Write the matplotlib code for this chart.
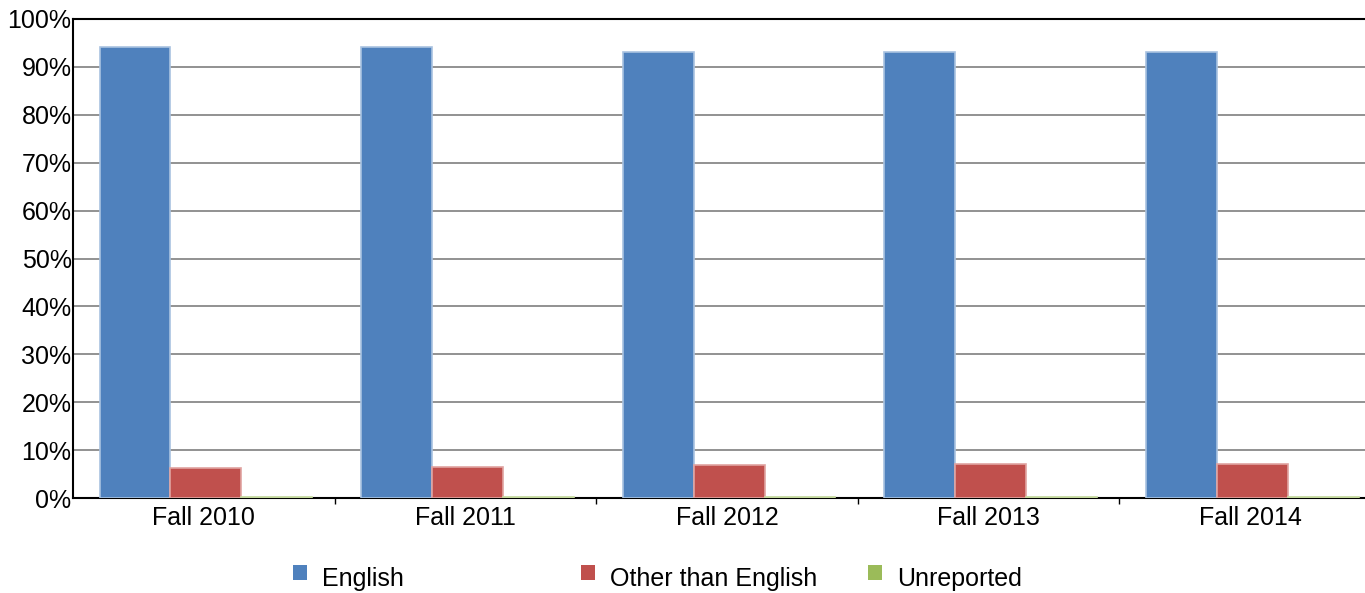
import numpy as np
import matplotlib.pyplot as plt
from matplotlib.patches import Rectangle

plt.rcParams['font.family'] = ['Liberation Sans', 'DejaVu Sans']

terms = ['Fall 2010', 'Fall 2011', 'Fall 2012', 'Fall 2013', 'Fall 2014']
english = [94.2, 94.2, 93.1, 93.1, 93.1]
other = [6.2, 6.5, 6.9, 7.1, 7.1]
unreported = [0.3, 0.3, 0.3, 0.3, 0.3]

series = [('English', english, '#4f81bd', '#a9c2e0'),
          ('Other than English', other, '#c0504d', '#e0a3a1'),
          ('Unreported', unreported, '#9bbb59', '#c3d89c')]

W, H = 1365, 593
fig = plt.figure(figsize=(W / 100, H / 100), dpi=100)
ax = fig.add_axes([73 / W, 1 - 498 / H, 1308 / W, 479 / H])

x = np.arange(len(terms))
w = 0.271
for i, (name, vals, color, edge) in enumerate(series):
    ax.bar(x + (i - 1) * w + 0.008, vals, w, color=color, edgecolor=edge, linewidth=1.2, zorder=3)

ax.set_xlim(-0.5, len(terms) - 0.5)
ax.set_ylim(0, 100)
ax.set_yticks(np.arange(0, 101, 10))
ax.set_yticklabels(['%d%%' % v for v in range(0, 101, 10)], fontsize=18)
ax.yaxis.grid(True, color='#7f7f7f', linewidth=1.2, zorder=0)
ax.tick_params(axis='y', length=0, pad=1)

ax.set_xticks(x)
ax.set_xticklabels(terms, fontsize=18)
ax.tick_params(axis='x', length=0, pad=6)
ax.set_xticks(np.arange(0.5, len(terms) - 0.5, 1), minor=True)
ax.tick_params(axis='x', which='minor', length=4, direction='out', width=1)

ax.spines['right'].set_visible(False)
for s in ('top', 'left', 'bottom'):
    ax.spines[s].set_linewidth(1.5)

# legend laid out in fixed-width slots like the original
slot_x = [293, 581, 868]
for (name, _, color, _), sx in zip(series, slot_x):
    fig.patches.append(Rectangle((sx / W, 1 - 580 / H), 14 / W, 15 / H, transform=fig.transFigure,
                                 facecolor=color, edgecolor='none'))
    fig.text((sx + 29) / W, 1 - 579 / H, name, fontsize=18, va='center', ha='left')

fig.savefig('out.png', dpi=100)
